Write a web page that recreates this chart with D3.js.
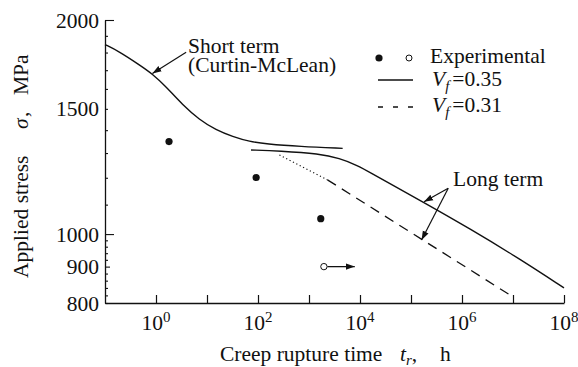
<!DOCTYPE html>
<html><head><meta charset="utf-8">
<script src="https://cdn.jsdelivr.net/npm/d3@7"></script>
<style>
body{margin:0;background:#fff}
text{font-family:"Liberation Serif","Times New Roman",serif;fill:#111}
</style>
</head><body>
<svg id="c" width="578" height="367"></svg>
<script>
// ---- data ----
const shortTermT = [0.1, 0.19, 0.47, 0.85, 1.57, 3.3, 7.1, 15, 32, 68, 145, 660, 4570];
const shortTermS = [1847, 1806, 1730, 1680, 1612, 1520, 1448, 1401, 1371, 1349, 1339, 1328, 1320];
const longTermT = [73, 263, 1620, 3980, 8500, 17800, 38900, 170000, 1.45e6, 1.38e7, 1e8];
const longTermS = [1313, 1309, 1297, 1278, 1251, 1215, 1177, 1110, 1017, 922, 840];
const vf31DottedT = [263, 2300];
const vf31DottedS = [1292, 1192];
const vf31DashedT = [2300, 1e7];
const vf31DashedS = [1192, 816];
const expFilledT = [1.8, 92, 1700];
const expFilledS = [1349, 1201, 1051];
const expOpenT = [1960];
const expOpenS = [900];
const xTickExponents = [0, 1, 2, 3, 4, 5, 6, 7, 8];
const xLabelExponents = [0, 2, 4, 6, 8];
const yTickValues = [800, 820, 840, 860, 880, 900, 920, 940, 960, 980, 1000, 1100, 1200, 1300, 1400, 1500, 1600, 1700, 1800, 1900, 2000];
const yLabelValues = [800, 900, 1000, 1500, 2000];

const svg = d3.select("#c");
const x = d3.scaleLog().domain([0.1, 1e8]).range([105, 564]);
const y = d3.scaleLog().domain([800, 2000]).range([303, 20]);
const FS = 21.5;

const defs = svg.append("defs");
defs.append("marker").attr("id","ah").attr("viewBox","0 0 10 10").attr("refX",10).attr("refY",5)
  .attr("markerWidth",9).attr("markerHeight",9).attr("markerUnits","userSpaceOnUse").attr("orient","auto")
  .append("path").attr("d","M0,1.5 L10,5 L0,8.5 Z").attr("fill","#111");

// x axis
const xAxis = d3.axisBottom(x).tickValues(xTickExponents.map(e => Math.pow(10, e)))
  .tickSizeInner(-8).tickSizeOuter(0).tickFormat("");
const gx = svg.append("g").attr("transform", `translate(0,${y(800)})`).call(xAxis);
gx.select(".domain").attr("stroke","#111").attr("stroke-width",1.3);
gx.selectAll(".tick line").attr("stroke","#111").attr("stroke-width",1.2);
xLabelExponents.forEach(e => {
  const t = svg.append("text").attr("x", x(Math.pow(10, e))).attr("y", 330)
    .attr("text-anchor","middle").attr("font-size", FS);
  t.append("tspan").text("10");
  t.append("tspan").attr("font-size", 15).attr("dy", -8).text(String(e));
});

// y axis
const yAxis = d3.axisLeft(y).tickValues(yTickValues).tickSizeInner(-3).tickSizeOuter(0).tickFormat("");
const gy = svg.append("g").attr("transform", `translate(${x(0.1)},0)`).call(yAxis);
gy.select(".domain").attr("stroke","#111").attr("stroke-width",1.3);
gy.selectAll(".tick line").attr("stroke","#111").attr("stroke-width",1.1)
  .attr("x2", d => (d === 2000 || d === 1000) ? 9 : (d === 900 ? 5 : 3));
yLabelValues.forEach(v => {
  svg.append("text").attr("x", 99).attr("y", y(v)).attr("dy","0.35em")
    .attr("text-anchor","end").attr("font-size", FS).text(v);
});

// axis titles
const yl = svg.append("g").attr("transform","translate(28,0) rotate(-90)");
yl.append("text").attr("x",-278).attr("y",0).attr("font-size",FS).text("Applied stress");
yl.append("text").attr("x",-129).attr("y",0).attr("font-size",FS).attr("font-style","italic").text("σ");
yl.append("text").attr("x",-117).attr("y",0).attr("font-size",FS).text(",");
yl.append("text").attr("x",-95).attr("y",0).attr("font-size",FS).text("MPa");

svg.append("text").attr("x",220).attr("y",361).attr("font-size",FS).text("Creep rupture time");
const tr = svg.append("text").attr("x",400).attr("y",361).attr("font-size",FS);
tr.append("tspan").attr("font-style","italic").text("t");
tr.append("tspan").attr("font-style","italic").attr("font-size",15).attr("dy",4).text("r");
tr.append("tspan").attr("dy",-4).text(",");
svg.append("text").attr("x",440).attr("y",361).attr("font-size",FS).text("h");

// curves
const line = d3.line().x(d => x(d[0])).y(d => y(d[1])).curve(d3.curveBasis);
const zip = (a, b) => a.map((v, i) => [v, b[i]]);
svg.append("path").attr("d", line(zip(shortTermT, shortTermS))).attr("fill","none").attr("stroke","#111").attr("stroke-width",1.4);
svg.append("path").attr("d", line(zip(longTermT, longTermS))).attr("fill","none").attr("stroke","#111").attr("stroke-width",1.4);
const sl = d3.line().x(d => x(d[0])).y(d => y(d[1]));
svg.append("path").attr("d", sl(zip(vf31DottedT, vf31DottedS))).attr("fill","none").attr("stroke","#111")
  .attr("stroke-width",1.2).attr("stroke-dasharray","1.2,2.6");
svg.append("path").attr("d", sl(zip(vf31DashedT, vf31DashedS))).attr("fill","none").attr("stroke","#111")
  .attr("stroke-width",1.3).attr("stroke-dasharray","10,7");

// experimental points
svg.selectAll(".ef").data(zip(expFilledT, expFilledS)).join("circle")
  .attr("cx", d => x(d[0])).attr("cy", d => y(d[1])).attr("r", 3.6).attr("fill","#111");
svg.selectAll(".eo").data(zip(expOpenT, expOpenS)).join("circle")
  .attr("cx", d => x(d[0])).attr("cy", d => y(d[1])).attr("r", 3.2).attr("fill","#fff").attr("stroke","#111").attr("stroke-width",1);
svg.append("line").attr("x1", x(expOpenT[0]) + 3.5).attr("y1", y(expOpenS[0]))
  .attr("x2", x(7900)).attr("y2", y(expOpenS[0])).attr("stroke","#111").attr("stroke-width",1.3).attr("marker-end","url(#ah)");

// annotations
svg.append("text").attr("x",188).attr("y",53).attr("font-size",FS).text("Short term");
svg.append("text").attr("x",188).attr("y",72).attr("font-size",FS).text("(Curtin-McLean)");
svg.append("line").attr("x1", x(3.9)).attr("y1", y(1802)).attr("x2", x(0.85)).attr("y2", y(1682))
  .attr("stroke","#111").attr("stroke-width",1.2).attr("marker-end","url(#ah)");

svg.append("text").attr("x",453).attr("y",186).attr("font-size",FS).text("Long term");
svg.append("line").attr("x1", x(537000)).attr("y1", y(1160)).attr("x2", x(180000)).attr("y2", y(1110))
  .attr("stroke","#111").attr("stroke-width",1.2).attr("marker-end","url(#ah)");
svg.append("line").attr("x1", x(537000)).attr("y1", y(1160)).attr("x2", x(161000)).attr("y2", y(981))
  .attr("stroke","#111").attr("stroke-width",1.2).attr("marker-end","url(#ah)");

// legend
svg.append("circle").attr("cx",379).attr("cy",58).attr("r",3.6).attr("fill","#111");
svg.append("circle").attr("cx",409).attr("cy",58).attr("r",3).attr("fill","#fff").attr("stroke","#111").attr("stroke-width",1);
svg.append("text").attr("x",430).attr("y",63).attr("font-size",FS).text("Experimental");
svg.append("line").attr("x1",378).attr("x2",413).attr("y1",80).attr("y2",80).attr("stroke","#111").attr("stroke-width",1.3);
svg.append("line").attr("x1",378).attr("x2",413).attr("y1",107).attr("y2",107).attr("stroke","#111").attr("stroke-width",1.3).attr("stroke-dasharray","5,10");
[["=0.35", 86], ["=0.31", 112]].forEach(([s, by]) => {
  const t = svg.append("text").attr("x",432).attr("y",by).attr("font-size",FS);
  t.append("tspan").attr("font-style","italic").text("V");
  t.append("tspan").attr("font-style","italic").attr("font-size",15).attr("dy",5).text("f");
  t.append("tspan").attr("dy",-5).attr("dx",3).text(s);
});
</script>
</body></html>
